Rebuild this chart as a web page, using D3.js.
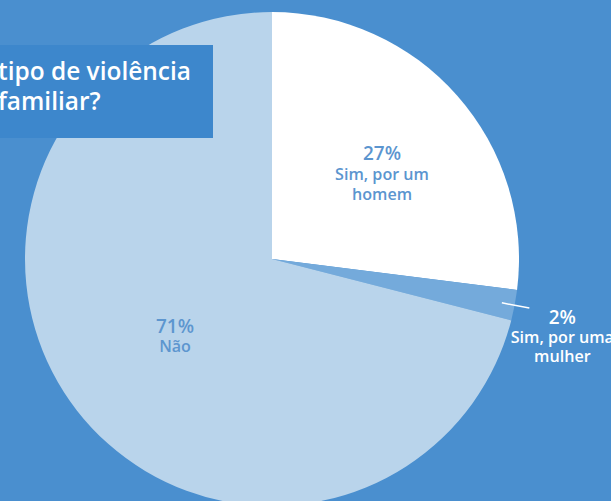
<!DOCTYPE html>
<html><head><meta charset="utf-8">
<script src="https://cdn.jsdelivr.net/npm/d3@7"></script>
<style>
html,body{margin:0;padding:0;background:#4a8fcf;}
svg{display:block;}
text{font-family:"Open Sans","Noto Sans",sans-serif;}
</style></head>
<body>
<svg id="c" width="611" height="501"></svg>
<script>
const categories = ["Sim, por um homem", "Sim, por uma mulher", "Não"];
const labelLines = [["27%", "Sim, por um", "homem"], ["2%", "Sim, por uma", "mulher"], ["71%", "Não"]];
const values = [27, 2, 71];
const titleLines = ["tipo de violência", "familiar?"];

const W = 611, H = 501;
const svg = d3.select("#c");
svg.append("rect").attr("width", W).attr("height", H).attr("fill", "#4a8fcf");

// measure helper: font size giving target width for a string
function sizeFor(str, target, weight) {
  const t = svg.append("text").attr("font-size", 20).attr("font-weight", weight).text(str);
  const w = t.node().getComputedTextLength();
  t.remove();
  return 20 * target / w;
}
const subSize = sizeFor("Sim, por um", 94, 600);
const pctSize = sizeFor("27%", 38, 600);
const titleSize = sizeFor("tipo de violência", 193, 600);

const cx = 272, cy = 259, R = 247;
const color = d3.scaleOrdinal().domain(categories).range(["#ffffff", "#74aadb", "#b9d4eb"]);
const pie = d3.pie().sort(null).value(d => d)(values);
const arc = d3.arc().innerRadius(0).outerRadius(R);
const g = svg.append("g").attr("transform", `translate(${cx},${cy})`);

g.selectAll("path.slice").data(pie).join("path")
  .attr("class", "slice")
  .attr("d", arc)
  .attr("fill", (d, i) => color(categories[i]));

// inside labels
const inR = [140, null, 124];
const inColor = ["#5b95cf", null, "#5d96cf"];
const lineOffsets = [[-6, 14, 34], null, [-2, 17]];
const dxs = [5, null, 1];
pie.forEach((d, i) => {
  if (i === 1) return;
  const c = d3.arc().innerRadius(inR[i]).outerRadius(inR[i]).centroid(d);
  const t = g.append("text").attr("text-anchor", "middle").attr("fill", inColor[i])
    .attr("font-weight", 600);
  labelLines[i].forEach((s, k) => {
    t.append("tspan").attr("x", c[0] + dxs[i]).attr("y", c[1] + lineOffsets[i][k])
      .attr("font-size", k === 0 ? pctSize : subSize).text(s);
  });
});

// outside label for 2%
{
  const d = pie[1];
  const p1 = d3.arc().innerRadius(R - 13).outerRadius(R - 13).centroid(d);
  const p2 = d3.arc().innerRadius(R + 15).outerRadius(R + 15).centroid(d);
  g.append("line").attr("x1", p1[0]).attr("y1", p1[1]).attr("x2", p2[0]).attr("y2", p2[1])
    .attr("stroke", "#ffffff").attr("stroke-width", 1.5);
  const lx = p2[0] + 33, ly = p2[1] + 16;
  const t = g.append("text").attr("text-anchor", "middle").attr("fill", "#ffffff").attr("font-weight", 600);
  labelLines[1].forEach((s, k) => {
    t.append("tspan").attr("x", lx).attr("y", ly + k * 19)
      .attr("font-size", k === 0 ? pctSize : subSize).text(s);
  });
}

// title box
svg.append("rect").attr("x", 0).attr("y", 45).attr("width", 213).attr("height", 93).attr("fill", "#3d87cc");
const tt = svg.append("text").attr("fill", "#ffffff").attr("font-size", titleSize).attr("font-weight", 600);
titleLines.forEach((s, k) => {
  tt.append("tspan").attr("x", -2).attr("y", 80 + k * 30).text(s);
});
</script>
</body></html>
